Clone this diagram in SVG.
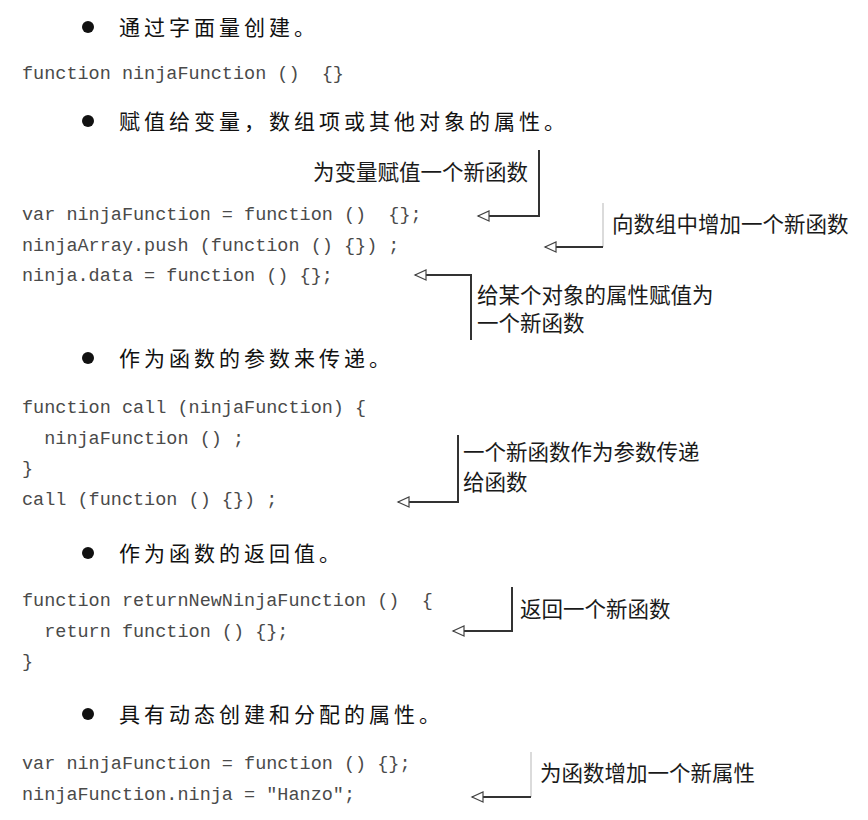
<svg xmlns="http://www.w3.org/2000/svg" width="868" height="820" viewBox="0 0 868 820">
<defs>
<style>
.h{font-family:"Noto Sans CJK SC",sans-serif;font-size:21px;letter-spacing:4px;fill:#111}
.c{font-family:"Liberation Mono",monospace;font-size:18.5px;fill:#4a4a4a}
.l{font-family:"Noto Sans CJK SC",sans-serif;font-size:21.5px;fill:#1a1a1a}
.b{fill:#111}
.ln{fill:none;stroke:#333;stroke-width:2}
.lt{fill:none;stroke:#cfcfcf;stroke-width:1.5}
</style>
<marker id="ah" viewBox="-1 -1 14 12" refX="11" refY="5" markerWidth="14" markerHeight="12" markerUnits="userSpaceOnUse" orient="auto">
<path d="M0,0 L11,5 L0,10 Z" fill="#fff" stroke="#444" stroke-width="1.2"/>
</marker>
</defs>
<rect width="868" height="820" fill="#fff"/>

<g id="heading1"><circle class="b" cx="88" cy="27" r="6"/><text class="h" x="119" y="35">通过字面量创建。</text></g>
<g id="code1"><text class="c" x="22" y="79" xml:space="preserve">function ninjaFunction ()  {}</text></g>

<g id="heading2"><circle class="b" cx="88" cy="121" r="6"/><text class="h" x="119" y="129">赋值给变量，数组项或其他对象的属性。</text></g>
<g id="code2">
<text class="c" x="22" y="220" xml:space="preserve">var ninjaFunction = function ()  {};</text>
<text class="c" x="22" y="251" xml:space="preserve">ninjaArray.push (function () {}) ;</text>
<text class="c" x="22" y="281" xml:space="preserve">ninja.data = function () {};</text>
</g>
<g id="label1"><text class="l" x="528" y="180" text-anchor="end">为变量赋值一个新函数</text></g>
<g id="label2"><text class="l" x="612" y="232">向数组中增加一个新函数</text></g>
<g id="label3"><text class="l" x="477" y="303">给某个对象的属性赋值为</text><text class="l" x="477" y="331">一个新函数</text></g>

<g id="heading3"><circle class="b" cx="88" cy="358" r="6"/><text class="h" x="119" y="366">作为函数的参数来传递。</text></g>
<g id="code3">
<text class="c" x="22" y="413" xml:space="preserve">function call (ninjaFunction) {</text>
<text class="c" x="22" y="444" xml:space="preserve">  ninjaFunction () ;</text>
<text class="c" x="22" y="474" xml:space="preserve">}</text>
<text class="c" x="22" y="505" xml:space="preserve">call (function () {}) ;</text>
</g>
<g id="label4"><text class="l" x="463" y="460">一个新函数作为参数传递</text><text class="l" x="463" y="490">给函数</text></g>

<g id="heading4"><circle class="b" cx="88" cy="553" r="6"/><text class="h" x="119" y="561">作为函数的返回值。</text></g>
<g id="code4">
<text class="c" x="22" y="606" xml:space="preserve">function returnNewNinjaFunction ()  {</text>
<text class="c" x="22" y="637" xml:space="preserve">  return function () {};</text>
<text class="c" x="22" y="667" xml:space="preserve">}</text>
</g>
<g id="label5"><text class="l" x="520" y="617">返回一个新函数</text></g>

<g id="heading5"><circle class="b" cx="88" cy="714" r="6"/><text class="h" x="119" y="722">具有动态创建和分配的属性。</text></g>
<g id="code5">
<text class="c" x="22" y="769" xml:space="preserve">var ninjaFunction = function () {};</text>
<text class="c" x="22" y="800" xml:space="preserve">ninjaFunction.ninja = "Hanzo";</text>
</g>
<g id="label6"><text class="l" x="540" y="781">为函数增加一个新属性</text></g>

<g id="connectors">
<path class="ln" d="M539,150 V216 H478" marker-end="url(#ah)"/>
<path class="lt" d="M603,203 V247"/>
<path class="ln" d="M603,247 H545" marker-end="url(#ah)"/>
<path class="ln" d="M471,340 V275 H415" marker-end="url(#ah)"/>
<path class="ln" d="M458,435 V502 H398" marker-end="url(#ah)"/>
<path class="ln" d="M512,587 V631 H453" marker-end="url(#ah)"/>
<path class="lt" d="M531,752 V797"/>
<path class="ln" d="M531,797 H472" marker-end="url(#ah)"/>
</g>
</svg>
